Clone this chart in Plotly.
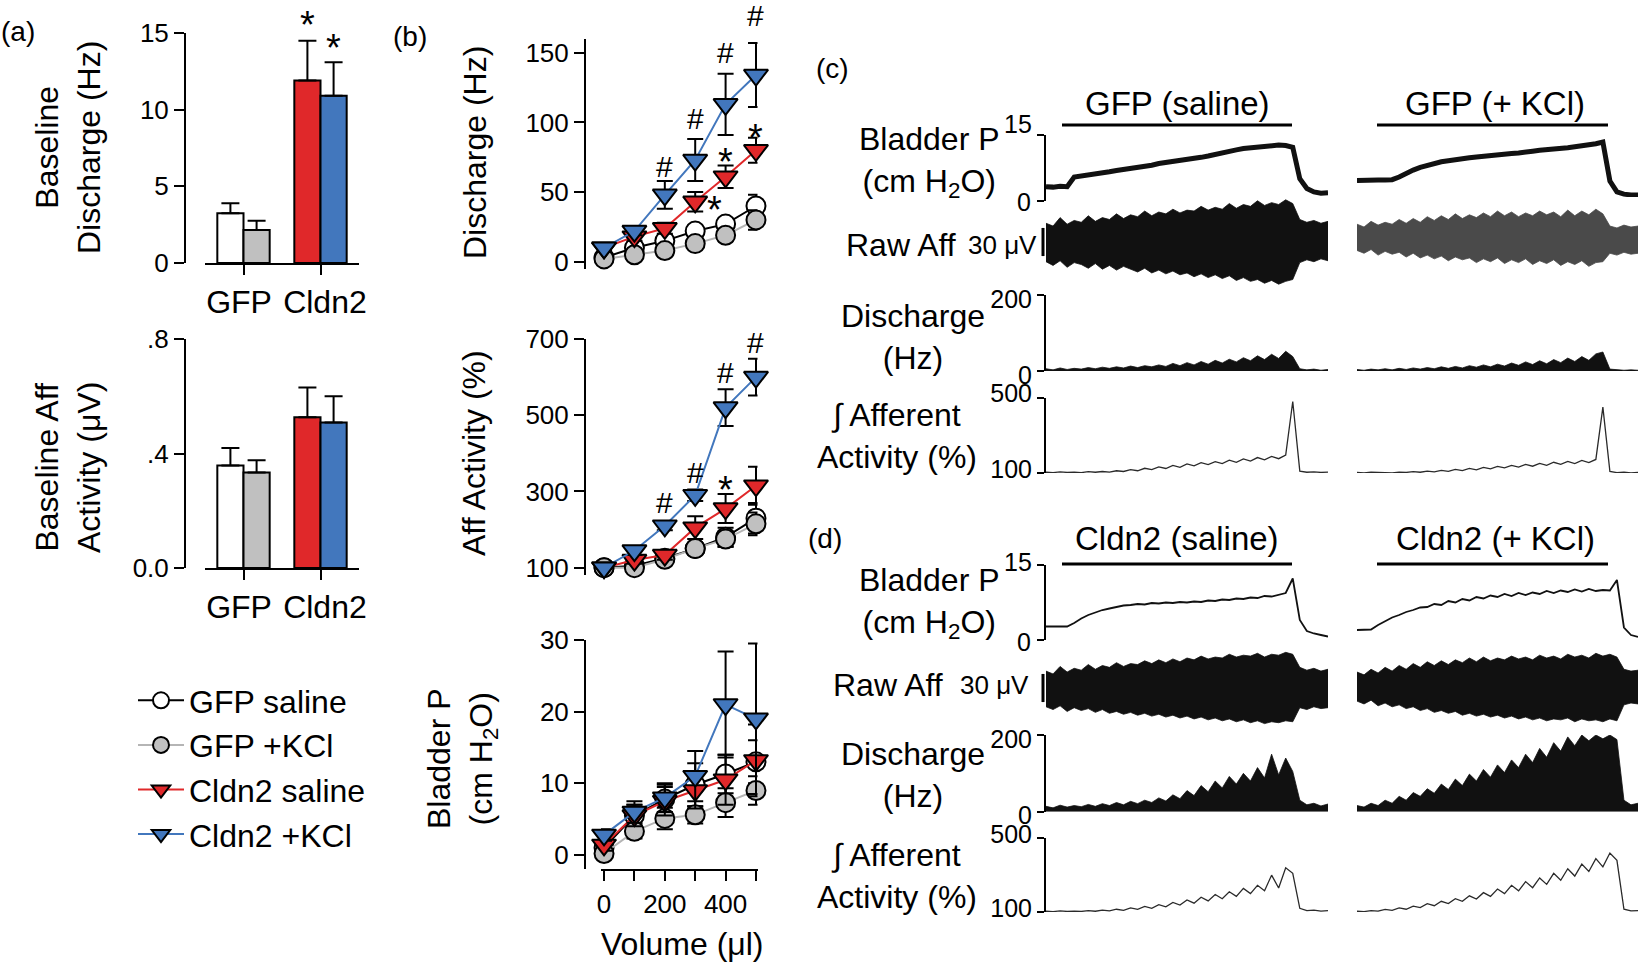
import plotly.graph_objects as go

W, H = 1640, 966
def px(x): return x / W
def py(y): return 1 - y / H

FONT = "Liberation Sans, Arial, Helvetica, sans-serif"
TICK = 26
LAB = 32
RED = "#e0282a"
BLUE = "#4277bd"
GRAY = "#c0c0c0"
LGRAY = "#b5b5b5"

# ---------------- (a) baseline bars ----------------
groups = ["GFP\u00a0", "\u00a0Cldn2"]
base_dis_saline = [3.25, 11.9]
base_dis_saline_err = [0.65, 2.6]
base_dis_kcl = [2.15, 10.9]
base_dis_kcl_err = [0.6, 2.2]
base_aff_saline = [0.358, 0.527]
base_aff_saline_err = [0.061, 0.104]
base_aff_kcl = [0.334, 0.508]
base_aff_kcl_err = [0.042, 0.092]

# ---------------- (b) volume responses ----------------
volume = [0, 100, 200, 300, 400, 500]
dis_gfp_sal = [3, 10, 15, 22, 27, 40]
dis_gfp_sal_err = [1, 2, 3, 4, 4, 8]
dis_gfp_kcl = [2, 5, 8, 13, 19, 30]
dis_gfp_kcl_err = [1, 1.5, 2, 3, 4, 7]
dis_cl_sal = [10, 18, 24, 43, 61, 80]
dis_cl_sal_err = [2, 3, 4, 7, 8, 9]
dis_cl_kcl = [10, 22, 48, 73, 113, 134]
dis_cl_kcl_err = [2, 3, 10, 15, 22, 23]

aff_gfp_sal = [100, 105, 125, 150, 180, 230]
aff_gfp_sal_err = [0, 8, 10, 15, 25, 40]
aff_gfp_kcl = [100, 100, 122, 150, 175, 215]
aff_gfp_kcl_err = [0, 6, 8, 12, 20, 30]
aff_cl_sal = [100, 120, 133, 205, 255, 315]
aff_cl_sal_err = [0, 10, 12, 30, 38, 50]
aff_cl_kcl = [100, 145, 210, 290, 520, 600]
aff_cl_kcl_err = [0, 12, 12, 15, 48, 48]

bp_gfp_sal = [1, 5.5, 7.8, 9.8, 11.3, 13]
bp_gfp_sal_err = [0.5, 1.5, 2, 3, 2.7, 3]
bp_gfp_kcl = [0.2, 3.3, 5.1, 5.6, 7.3, 9]
bp_gfp_kcl_err = [0.5, 1, 1.5, 1.2, 2, 2]
bp_cl_sal = [1.4, 5.5, 7.5, 9, 10.5, 13.2]
bp_cl_sal_err = [0.8, 1.5, 2, 2.5, 3.5, 5]
bp_cl_kcl = [2.8, 6, 8, 11, 21, 19]
bp_cl_kcl_err = [0.8, 1.5, 2, 3.5, 7.4, 10.5]

vol_labels = [0, 200, 400]

# significance marks (symbol, x value, y value)
sig_dis = [("#", 200, 68), ("#", 300, 103), ("#", 400, 150), ("#", 500, 177),
           ("*", 363, 44), ("*", 400, 79), ("*", 500, 96)]
sig_aff = [("#", 200, 270), ("#", 300, 351), ("#", 400, 611), ("#", 500, 692),
           ("*", 400, 330)]
sig_base = [("*", 0.83, 16.2), ("*", 1.17, 14.7)]

# ---------------- (c),(d) example recordings (time in % of fill) ----------------
T = [0, 2.5, 5, 7.5, 10, 12.5, 15, 17.5, 20, 22.5, 25, 27.5, 30, 32.5, 35, 37.5,
     40, 42.5, 45, 47.5, 50, 52.5, 55, 57.5, 60, 62.5, 65, 67.5, 70, 72.5, 75,
     77.5, 80, 82.5, 85, 87.5, 90, 92.5, 95, 97.5, 100]

gfp_sal_P = [3.2, 3.1, 3.3, 3.2, 5.4, 5.6, 5.9, 6.1, 6.4, 6.6, 6.9, 7.1, 7.4, 7.6,
             7.9, 8.1, 8.5, 8.7, 9.0, 9.1, 9.3, 9.6, 9.9, 10.2, 10.6, 10.9, 11.3,
             11.6, 11.9, 12.1, 12.3, 12.5, 12.6, 12.7, 12.6, 12.2, 5.0, 2.8, 2.0, 1.7, 1.8]
gfp_sal_raw_up = [20, 17, 26, 19, 23, 21, 28, 22, 26, 24, 30, 25, 29, 27, 33, 28, 32,
                  30, 35, 31, 34, 33, 38, 34, 37, 35, 41, 36, 40, 38, 44, 39, 42, 40,
                  45, 41, 24, 21, 23, 20, 22]
gfp_sal_raw_lo = [-21, -25, -20, -27, -22, -24, -28, -23, -29, -25, -30, -26, -29, -32,
                  -28, -33, -30, -34, -31, -35, -33, -37, -34, -38, -35, -39, -36, -41,
                  -38, -42, -40, -44, -41, -45, -42, -40, -22, -19, -21, -18, -20]
gfp_sal_dis = [6, 3, 8, 4, 7, 5, 9, 6, 10, 7, 11, 8, 13, 9, 14, 11, 16, 12, 20, 14, 22,
               16, 25, 18, 28, 21, 31, 24, 35, 27, 40, 30, 44, 33, 52, 38, 6, 3, 5, 2, 4]
gfp_sal_aff = [104, 102, 106, 103, 105, 102, 107, 104, 108, 105, 112, 108, 118, 112,
               125, 118, 132, 124, 140, 130, 148, 138, 155, 145, 160, 150, 168, 157,
               175, 163, 182, 170, 188, 176, 195, 480, 110, 104, 106, 103, 105]

gfp_kcl_P = [4.6, 4.7, 4.6, 4.7, 4.7, 4.8, 5.4, 6.3, 7.0, 7.6, 8.1, 8.5, 8.9, 9.1, 9.4,
             9.6, 9.8, 10.0, 10.2, 10.3, 10.5, 10.6, 10.8, 10.9, 11.2, 11.3, 11.5,
             11.6, 11.8, 11.9, 12.1, 12.3, 12.5, 12.7, 13.0, 13.4, 4.5, 2.0, 1.5, 1.3, 1.3]
gfp_kcl_raw_up = [19, 16, 22, 18, 21, 19, 24, 20, 25, 21, 27, 23, 28, 24, 30, 25, 29,
                  26, 31, 27, 33, 28, 32, 27, 31, 28, 33, 29, 32, 27, 34, 28, 33, 29,
                  35, 30, 17, 15, 18, 16, 17]
gfp_kcl_raw_lo = [-9, -12, -8, -14, -10, -13, -11, -16, -12, -17, -14, -18, -15, -20,
                  -16, -19, -17, -22, -18, -21, -17, -23, -19, -22, -18, -24, -20, -23,
                  -19, -25, -21, -24, -20, -26, -22, -21, -12, -14, -11, -13, -12]
gfp_kcl_dis = [4, 2, 5, 3, 6, 3, 7, 4, 8, 5, 9, 6, 11, 7, 12, 8, 14, 10, 16, 11, 18, 13,
               21, 15, 24, 17, 27, 19, 30, 22, 34, 25, 38, 28, 45, 50, 5, 3, 2, 3, 2]
gfp_kcl_aff = [103, 101, 104, 102, 103, 101, 105, 103, 107, 104, 110, 106, 114, 109,
               119, 113, 124, 117, 130, 122, 135, 127, 140, 131, 146, 136, 151, 141,
               157, 146, 162, 150, 167, 155, 172, 450, 108, 102, 104, 101, 103]

cl_sal_P = [2.7, 2.7, 2.6, 2.7, 3.4, 4.3, 5.0, 5.5, 6.0, 6.3, 6.6, 6.9, 7.0, 7.2, 7.1,
            7.4, 7.3, 7.5, 7.4, 7.6, 7.5, 7.7, 7.6, 7.9, 7.8, 8.1, 8.0, 8.3, 8.2, 8.5,
            8.4, 8.8, 8.7, 9.1, 9.4, 12.3, 4.0, 1.8, 1.3, 1.0, 0.7]
cl_sal_raw_up = [18, 15, 23, 17, 21, 19, 25, 20, 24, 22, 27, 23, 26, 25, 29, 26, 30, 27,
                 31, 28, 32, 30, 34, 31, 33, 32, 36, 33, 35, 34, 37, 33, 36, 35, 38, 36,
                 22, 19, 21, 18, 20]
cl_sal_raw_lo = [-20, -23, -19, -25, -21, -24, -22, -26, -23, -27, -25, -28, -26, -29,
                 -27, -30, -28, -31, -29, -32, -30, -33, -31, -34, -32, -35, -33, -36,
                 -34, -37, -35, -38, -36, -37, -35, -36, -21, -23, -20, -22, -21]
cl_sal_dis = [14, 10, 17, 12, 16, 13, 19, 14, 21, 16, 24, 18, 27, 21, 30, 24, 36, 28, 44,
              34, 55, 42, 68, 52, 80, 62, 92, 72, 100, 80, 115, 88, 150, 96, 140, 105,
              30, 18, 22, 15, 20]
cl_sal_aff = [104, 102, 106, 103, 105, 103, 108, 104, 110, 106, 115, 109, 122, 114, 130,
              120, 140, 128, 152, 138, 165, 148, 180, 160, 195, 172, 210, 185, 228, 200,
              245, 215, 300, 230, 340, 310, 120, 108, 110, 105, 107]

cl_kcl_P = [2.0, 2.0, 2.1, 3.0, 3.8, 4.5, 5.0, 5.6, 6.0, 6.5, 6.6, 7.2, 7.0, 7.8, 7.5,
            8.2, 7.9, 8.6, 8.3, 8.9, 8.6, 9.2, 8.8, 9.4, 9.0, 9.5, 9.2, 9.8, 9.4, 9.9,
            9.6, 10.1, 9.7, 10.2, 9.8, 10.0, 9.9, 12.0, 2.5, 1.0, 0.6]
cl_kcl_raw_up = [17, 14, 20, 16, 22, 18, 24, 20, 26, 22, 28, 24, 29, 25, 30, 27, 32, 28,
                 33, 29, 32, 30, 34, 31, 33, 30, 35, 32, 34, 31, 36, 33, 35, 32, 37, 34,
                 36, 33, 20, 18, 19]
cl_kcl_raw_lo = [-14, -17, -13, -19, -16, -20, -18, -22, -20, -24, -22, -26, -24, -27,
                 -25, -29, -27, -30, -28, -31, -29, -32, -30, -33, -31, -34, -32, -35,
                 -33, -34, -32, -36, -33, -35, -34, -36, -33, -35, -18, -16, -17]
cl_kcl_dis = [16, 12, 22, 16, 30, 22, 40, 30, 50, 40, 60, 48, 72, 58, 85, 68, 98, 80,
              110, 90, 122, 102, 135, 115, 150, 128, 165, 142, 180, 158, 195, 172, 200,
              185, 200, 190, 200, 188, 30, 18, 22]
cl_kcl_aff = [104, 102, 108, 105, 114, 109, 122, 115, 132, 124, 145, 134, 158, 146, 172,
              158, 188, 170, 205, 185, 225, 200, 245, 215, 265, 232, 285, 250, 310, 272,
              335, 295, 360, 320, 390, 345, 420, 380, 115, 106, 108]

for arr in [gfp_sal_P, gfp_sal_raw_up, gfp_sal_raw_lo, gfp_sal_dis, gfp_sal_aff,
            gfp_kcl_P, gfp_kcl_raw_up, gfp_kcl_raw_lo, gfp_kcl_dis, gfp_kcl_aff,
            cl_sal_P, cl_sal_raw_up, cl_sal_raw_lo, cl_sal_dis, cl_sal_aff,
            cl_kcl_P, cl_kcl_raw_up, cl_kcl_raw_lo, cl_kcl_dis, cl_kcl_aff]:
    assert len(arr) == len(T), len(arr)

# axis geometry (pixels of the 1640x966 canvas)
GEO = {
    "a_x": ((205, 359), (-0.5, 1.5)),
    "a_y": ((263, 33), (0, 15)),
    "b_x": ((601, 757.5), (-10, 505)),
    "b_y1": ((268.7, 38.8), (-5, 160)),
    "b_y2": ((575.3, 339), (80, 700)),
}
def d2p(v, key, vertical):
    (p0, p1), (r0, r1) = GEO[key]
    pix = p0 + (v - r0) / (r1 - r0) * (p1 - p0)
    return py(pix) if vertical else px(pix)

fig = go.Figure()

# ---------- (a) bars ----------
def add_bars(yvals, err, colors, offset, yaxis, xaxis):
    fig.add_trace(go.Bar(
        x=[0, 1], y=yvals, xaxis=xaxis, yaxis=yaxis, offset=offset, width=0.34,
        marker=dict(color=colors, line=dict(color="black", width=2)),
        error_y=dict(type="data", array=err, arrayminus=[0, 0], symmetric=False,
                     color="black", thickness=2, width=9),
        showlegend=False, hoverinfo="skip"))

add_bars(base_dis_saline, base_dis_saline_err, ["white", RED], -0.34, "y", "x")
add_bars(base_dis_kcl, base_dis_kcl_err, [GRAY, BLUE], 0.0, "y", "x")
add_bars(base_aff_saline, base_aff_saline_err, ["white", RED], -0.34, "y2", "x2")
add_bars(base_aff_kcl, base_aff_kcl_err, [GRAY, BLUE], 0.0, "y2", "x2")

# ---------- (b) lines ----------
series = [
    ("GFP saline", "circle", "white", "black", 19,
     [dis_gfp_sal, aff_gfp_sal, bp_gfp_sal], [dis_gfp_sal_err, aff_gfp_sal_err, bp_gfp_sal_err]),
    ("GFP +KCl", "circle", GRAY, LGRAY, 19,
     [dis_gfp_kcl, aff_gfp_kcl, bp_gfp_kcl], [dis_gfp_kcl_err, aff_gfp_kcl_err, bp_gfp_kcl_err]),
    ("Cldn2 saline", "triangle-down", RED, RED, 21,
     [dis_cl_sal, aff_cl_sal, bp_cl_sal], [dis_cl_sal_err, aff_cl_sal_err, bp_cl_sal_err]),
    ("Cldn2 +KCl", "triangle-down", BLUE, BLUE, 21,
     [dis_cl_kcl, aff_cl_kcl, bp_cl_kcl], [dis_cl_kcl_err, aff_cl_kcl_err, bp_cl_kcl_err]),
]
for name, sym, fc, lc, ms, ys, es in series:
    for k, ya in enumerate(["y3", "y4", "y5"]):
        fig.add_trace(go.Scatter(
            x=volume, y=ys[k], xaxis="x3", yaxis=ya, mode="lines+markers", name=name,
            line=dict(color=lc, width=2),
            marker=dict(symbol=sym, size=ms, color=fc, line=dict(color="black", width=2)),
            error_y=dict(type="data", array=es[k], color="black", thickness=2, width=8),
            cliponaxis=False, showlegend=(k == 0), legendgroup=name, hoverinfo="skip"))

# ---------- (c),(d) recordings ----------
recs = [
    ("x4", "y6", "y7", "y8", "y9", gfp_sal_P, gfp_sal_raw_up, gfp_sal_raw_lo, gfp_sal_dis, gfp_sal_aff, "#111111", 5),
    ("x5", "y6", "y7", "y8", "y9", gfp_kcl_P, gfp_kcl_raw_up, gfp_kcl_raw_lo, gfp_kcl_dis, gfp_kcl_aff, "#4a4a4a", 5),
    ("x4", "y10", "y11", "y12", "y13", cl_sal_P, cl_sal_raw_up, cl_sal_raw_lo, cl_sal_dis, cl_sal_aff, "#111111", 1.8),
    ("x5", "y10", "y11", "y12", "y13", cl_kcl_P, cl_kcl_raw_up, cl_kcl_raw_lo, cl_kcl_dis, cl_kcl_aff, "#111111", 1.8),
]
for xa, yP, yR, yD, yA, P, up, lo, dis, aff, rawc, pw in recs:
    fig.add_trace(go.Scatter(x=T, y=P, xaxis=xa, yaxis=yP, mode="lines",
                             line=dict(color="#111111", width=pw), showlegend=False, hoverinfo="skip"))
    fig.add_trace(go.Scatter(x=T + T[::-1], y=up + lo[::-1], xaxis=xa, yaxis=yR, mode="lines",
                             fill="toself", fillcolor=rawc, line=dict(color=rawc, width=0.8),
                             showlegend=False, hoverinfo="skip"))
    fig.add_trace(go.Scatter(x=T, y=dis, xaxis=xa, yaxis=yD, mode="lines", fill="tozeroy",
                             fillcolor="#111111", line=dict(color="#111111", width=0.8),
                             showlegend=False, hoverinfo="skip"))
    fig.add_trace(go.Scatter(x=T, y=aff, xaxis=xa, yaxis=yA, mode="lines",
                             line=dict(color="#2a2a2a", width=1.3), showlegend=False, hoverinfo="skip"))

# ---------- layout ----------
AX = dict(showgrid=False, zeroline=False, showline=True, linecolor="black", linewidth=2,
          ticks="outside", ticklen=10, tickwidth=2, tickcolor="black", automargin=False,
          tickfont=dict(size=TICK, color="black", family=FONT))
HID = dict(visible=False, showgrid=False, zeroline=False, automargin=False)
LABF = dict(size=LAB, color="black", family=FONT)

layout = dict(
    template="none",
    width=W, height=H, margin=dict(l=0, r=0, t=0, b=0, pad=0, autoexpand=False),
    paper_bgcolor="white", plot_bgcolor="white", barmode="overlay",
    font=dict(family=FONT, color="black", size=TICK),
    xaxis=dict(AX, domain=[px(205), px(359)], range=[-0.5, 1.5], anchor="y",
               tickvals=[0, 1], ticktext=groups, tickangle=0, tickfont=LABF),
    yaxis=dict(AX, domain=[py(263), py(33)], range=[0, 15], anchor="free", position=px(185),
               tickvals=[0, 5, 10, 15]),
    xaxis2=dict(AX, domain=[px(205), px(359)], range=[-0.5, 1.5], anchor="y2",
                tickvals=[0, 1], ticktext=groups, tickangle=0, tickfont=LABF),
    yaxis2=dict(AX, domain=[py(568), py(339)], range=[0, 0.8], anchor="free", position=px(185),
                tickvals=[0, 0.4, 0.8], ticktext=["0.0", ".4", ".8"]),
    xaxis3=dict(AX, domain=[px(601), px(757.5)], range=[-10, 505], anchor="y5",
                tickvals=vol_labels, tickangle=0,
                minor=dict(dtick=100, tick0=0, ticks="outside", ticklen=10, tickwidth=2,
                           tickcolor="black", showgrid=False)),
    yaxis3=dict(AX, domain=[py(268.7), py(38.8)], range=[-5, 160], anchor="free", position=px(585),
                tickvals=[0, 50, 100, 150]),
    yaxis4=dict(AX, domain=[py(575.3), py(339)], range=[80, 700], anchor="free", position=px(585),
                tickvals=[100, 300, 500, 700]),
    yaxis5=dict(AX, domain=[py(869.3), py(640)], range=[-2, 30], anchor="free", position=px(585),
                tickvals=[0, 10, 20, 30]),
    xaxis4=dict(HID, domain=[px(1046), px(1328)], range=[0, 100], anchor="y6"),
    xaxis5=dict(HID, domain=[px(1357), px(1638)], range=[0, 100], anchor="y6"),
)
TR = dict(AX, ticklen=7, anchor="free", position=px(1045),
          tickfont=dict(size=25, color="black", family=FONT))
layout.update(
    yaxis6=dict(TR, domain=[py(200.7), py(135)], range=[0, 15], tickvals=[0, 15], showticklabels=False),
    yaxis7=dict(HID, domain=[py(287), py(197)], range=[-48, 48]),
    yaxis8=dict(TR, domain=[py(371), py(295)], range=[0, 200], tickvals=[0, 200], ticklabelshift=4),
    yaxis9=dict(TR, domain=[py(473), py(397.7)], range=[100, 500], tickvals=[100, 500], ticklabelshift=-4),
    yaxis10=dict(TR, domain=[py(640), py(565)], range=[0, 15], tickvals=[0, 15], showticklabels=False),
    yaxis11=dict(HID, domain=[py(733), py(643)], range=[-48, 48]),
    yaxis12=dict(TR, domain=[py(811.7), py(735)], range=[0, 200], tickvals=[0, 200], ticklabelshift=4),
    yaxis13=dict(TR, domain=[py(912), py(838.3)], range=[100, 500], tickvals=[100, 500], ticklabelshift=-4),
)

layout["legend"] = dict(x=px(133), y=py(673), xanchor="left", yanchor="top",
                        font=dict(size=LAB, family=FONT, color="black"),
                        bgcolor="rgba(0,0,0,0)", borderwidth=0, tracegroupgap=0, itemwidth=46)

anns = []
def ann(text, x, y, size=LAB, angle=0, xa="center"):
    anns.append(dict(text=text, x=px(x), y=py(y), xref="paper", yref="paper",
                     showarrow=False, textangle=angle, xanchor=xa, yanchor="middle",
                     font=dict(size=size, family=FONT, color="black")))

ann("(a)", 18, 32, 28)
ann("(b)", 410, 37, 28)
ann("(c)", 832, 68, 28)
ann("(d)", 825, 538, 28)
ann("Baseline<br>Discharge (Hz)", 68, 148, angle=-90)
ann("Baseline Aff<br>Activity (μV)", 68, 468, angle=-90)
ann("Discharge (Hz)", 475, 152, angle=-90)
ann("Aff Activity (%)", 474, 453, angle=-90)
ann("Bladder P<br>(cm H<sub>2</sub>O)", 462, 758, angle=-90)
ann("Volume (μl)", 682, 944)

ann("Bladder P<br>(cm H<sub>2</sub>O)", 930, 162)
ann("Discharge<br>(Hz)", 913, 337)
ann("∫ Afferent<br>Activity (%)", 897, 436)
ann("Bladder P<br>(cm H<sub>2</sub>O)", 930, 603)
ann("Discharge<br>(Hz)", 913, 775)
ann("∫ Afferent<br>Activity (%)", 897, 876)
ann("Raw Aff", 901, 245)
ann("30 μV", 1002, 245, TICK)
ann("Raw Aff", 888, 685)
ann("30 μV", 994, 685, TICK)
# pressure scale labels (the "15" sits raised like in the original)
ann("15", 1018, 124, 25)
ann("0", 1024, 202, 25)
ann("15", 1018, 562, 25)
ann("0", 1024, 642, 25)

ann("GFP (saline)", 1177, 103, 33)
ann("GFP (+ KCl)", 1495, 103, 33)
ann("Cldn2 (saline)", 1177, 538, 33)
ann("Cldn2 (+ KCl)", 1495, 538, 33)

def sig(marks, xkey, ykey):
    for s, xv, yv in marks:
        big = s == "*"
        anns.append(dict(text=s, x=d2p(xv, xkey, False), y=d2p(yv, ykey, True),
                         xref="paper", yref="paper", showarrow=False,
                         xanchor="center", yanchor="middle",
                         yshift=(-10 if big else 0),
                         font=dict(size=(38 if big else 30), family=FONT, color="black")))
sig(sig_base, "a_x", "a_y")
sig(sig_dis, "b_x", "b_y1")
sig(sig_aff, "b_x", "b_y2")
layout["annotations"] = anns

shapes = []
for yy in (125, 564):
    for x0, x1 in ((1062, 1292), (1377, 1608)):
        shapes.append(dict(type="line", xref="paper", yref="paper", x0=px(x0), x1=px(x1),
                           y0=py(yy), y1=py(yy), line=dict(color="black", width=3)))
for ya in ("y7", "y11"):
    shapes.append(dict(type="line", xref="paper", yref=ya, x0=px(1043), x1=px(1043),
                       y0=-15, y1=15, line=dict(color="black", width=3)))
layout["shapes"] = shapes

fig.update_layout(**layout)
fig.write_html("out.html", config={"displayModeBar": False},
               post_script="document.body.style.margin='0px';document.body.style.overflow='hidden';")
